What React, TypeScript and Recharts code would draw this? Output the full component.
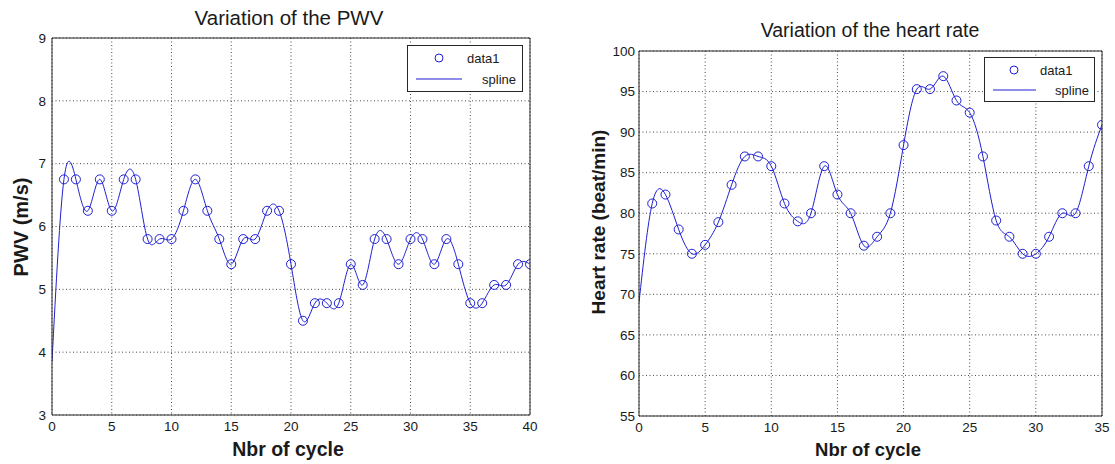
import React from 'react';
import { ComposedChart, Line, XAxis, YAxis, CartesianGrid, Legend } from 'recharts';

const BLUE = '#1f1fd2';
const FRAME = '#262626';
const GRID = '#4a4a4a';
const TEXT = '#1a1a1a';
const FONT = '"Liberation Sans", Arial, Helvetica, sans-serif';

// ---- Variation of the PWV ----
const pwvCycles = [1, 2, 3, 4, 5, 6, 7, 8, 9, 10, 11, 12, 13, 14, 15, 16, 17, 18, 19, 20, 21, 22, 23, 24, 25, 26, 27, 28, 29, 30, 31, 32, 33, 34, 35, 36, 37, 38, 39, 40];
const pwvValues = [
  6.75, 6.75, 6.25, 6.75, 6.25, 6.75, 6.75, 5.8, 5.8, 5.8,
  6.25, 6.75, 6.25, 5.8, 5.4, 5.8, 5.8, 6.25, 6.25, 5.4,
  4.5, 4.78, 4.78, 4.78, 5.4, 5.07, 5.8, 5.8, 5.4, 5.8,
  5.8, 5.4, 5.8, 5.4, 4.78, 4.78, 5.07, 5.07, 5.4, 5.4,
];
const pwvSplineStartCycle = 0;
const pwvSplineStartValue = 3.85;
const pwvXTicks = [0, 5, 10, 15, 20, 25, 30, 35, 40];
const pwvYTicks = [3, 4, 5, 6, 7, 8, 9];

// ---- Variation of the heart rate ----
const hrCycles = [1, 2, 3, 4, 5, 6, 7, 8, 9, 10, 11, 12, 13, 14, 15, 16, 17, 18, 19, 20, 21, 22, 23, 24, 25, 26, 27, 28, 29, 30, 31, 32, 33, 34, 35];
const hrValues = [
  81.2, 82.3, 78.0, 75.0, 76.1, 78.9, 83.5, 87.0, 87.0, 85.8,
  81.2, 79.0, 80.0, 85.8, 82.3, 80.0, 76.0, 77.1, 80.0, 88.4,
  95.3, 95.3, 96.9, 93.9, 92.4, 87.0, 79.1, 77.1, 75.0, 75.0,
  77.1, 80.0, 80.0, 85.8, 90.9,
];
const hrSplineStartCycle = 0;
const hrSplineStartValue = 69.0;
const hrXTicks = [0, 5, 10, 15, 20, 25, 30, 35];
const hrYTicks = [55, 60, 65, 70, 75, 80, 85, 90, 95, 100];

const legendLabels = ['data1', 'spline'];

type Pt = { x: number; y: number };

const toPoints = (cycles: number[], values: number[]): Pt[] =>
  cycles.map((c, i) => ({ x: c, y: values[i] }));

const pwvData1 = toPoints(pwvCycles, pwvValues);
const pwvSpline = [{ x: pwvSplineStartCycle, y: pwvSplineStartValue }, ...pwvData1];
const hrData1 = toPoints(hrCycles, hrValues);
const hrSpline = [{ x: hrSplineStartCycle, y: hrSplineStartValue }, ...hrData1];

type LegendGeom = {
  left: number; top: number; w: number; h: number;
  circleX: number; textX: number; lineX1: number; lineX2: number; splineRight: number;
  row1: number; row2: number;
};

function LegendBox({ g }: { g: LegendGeom }) {
  return (
    <svg width={g.w} height={g.h} style={{ display: 'block' }}>
      <rect x={0.5} y={0.5} width={g.w - 1} height={g.h - 1} fill="#fff" stroke={FRAME} strokeWidth={1} />
      <circle cx={g.circleX} cy={g.row1} r={4} fill="none" stroke={BLUE} strokeWidth={1} />
      <text x={g.textX} y={g.row1} dy="0.35em" fontSize={13} fontFamily={FONT} fill={TEXT}>{legendLabels[0]}</text>
      <line x1={g.lineX1} x2={g.lineX2} y1={g.row2} y2={g.row2} stroke={BLUE} strokeWidth={1} />
      <text x={g.splineRight} y={g.row2} dy="0.35em" textAnchor="end" fontSize={13} fontFamily={FONT} fill={TEXT}>{legendLabels[1]}</text>
    </svg>
  );
}

type PanelProps = {
  width: number; height: number;
  margin: { top: number; right: number; bottom: number; left: number };
  yAxisWidth: number; yTickGap: number;
  xDomain: [number, number]; yDomain: [number, number];
  xTicks: number[]; yTicks: number[];
  data1: Pt[]; spline: Pt[];
  legend: LegendGeom;
};

const tickStyle = { fill: TEXT, fontSize: 13.5, fontFamily: FONT };

function Panel(p: PanelProps) {
  return (
    <ComposedChart width={p.width} height={p.height} margin={p.margin}>
      <CartesianGrid stroke={GRID} strokeDasharray="1 2.5" strokeWidth={1} />
      <XAxis
        dataKey="x" type="number" domain={p.xDomain} ticks={p.xTicks} interval={0}
        allowDataOverflow height={30} tickLine={false} tickSize={6} tickMargin={0}
        axisLine={{ stroke: FRAME, strokeWidth: 1 }} tick={tickStyle}
      />
      <YAxis
        type="number" domain={p.yDomain} ticks={p.yTicks} interval={0}
        allowDataOverflow width={p.yAxisWidth} tickLine={false} tickSize={p.yTickGap} tickMargin={0}
        axisLine={{ stroke: FRAME, strokeWidth: 1 }} tick={tickStyle}
      />
      <XAxis
        xAxisId="topFrame" orientation="top" mirror type="number" domain={p.xDomain} ticks={p.xTicks}
        interval={0} height={1} tick={false} tickSize={5} axisLine={{ stroke: FRAME }} tickLine={{ stroke: FRAME }}
      />
      <XAxis
        xAxisId="bottomIn" orientation="bottom" mirror type="number" domain={p.xDomain} ticks={p.xTicks}
        interval={0} height={1} tick={false} tickSize={5} axisLine={false} tickLine={{ stroke: FRAME }}
      />
      <YAxis
        yAxisId="rightFrame" orientation="right" mirror type="number" domain={p.yDomain} ticks={p.yTicks}
        interval={0} width={1} tick={false} tickSize={5} axisLine={{ stroke: FRAME }} tickLine={{ stroke: FRAME }}
      />
      <YAxis
        yAxisId="leftIn" orientation="left" mirror type="number" domain={p.yDomain} ticks={p.yTicks}
        interval={0} width={1} tick={false} tickSize={5} axisLine={false} tickLine={{ stroke: FRAME }}
      />
      <Line
        name={legendLabels[1]} data={p.spline} dataKey="y" type="natural"
        stroke={BLUE} strokeWidth={1} dot={false} activeDot={false} isAnimationActive={false}
      />
      <Line
        name={legendLabels[0]} data={p.data1} dataKey="y" type="linear"
        stroke="none" strokeWidth={0}
        dot={{ r: 4.5, stroke: BLUE, strokeWidth: 1, fill: 'none' }}
        activeDot={false} isAnimationActive={false}
      />
      <Legend
        layout="vertical" align="center" verticalAlign="middle"
        width={p.legend.w} height={p.legend.h}
        wrapperStyle={{ left: p.legend.left, top: p.legend.top, width: p.legend.w, height: p.legend.h }}
        content={() => <LegendBox g={p.legend} />}
      />
    </ComposedChart>
  );
}

export default function App() {
  return (
    <div style={{ position: 'absolute', left: 0, top: 0, width: 1115, height: 464, background: '#fff', overflow: 'hidden' }}>
      <div style={{ position: 'absolute', left: 0, top: 0 }}>
        <Panel
          width={560} height={464}
          margin={{ top: 38, right: 30, bottom: 19, left: 0 }}
          yAxisWidth={52} yTickGap={6}
          xDomain={[0, 40]} yDomain={[3, 9]}
          xTicks={pwvXTicks} yTicks={pwvYTicks}
          data1={pwvData1} spline={pwvSpline}
          legend={{ left: 407, top: 45, w: 116, h: 47, circleX: 32, textX: 60, lineX1: 9, lineX2: 55, splineRight: 109, row1: 13, row2: 34 }}
        />
      </div>
      <div style={{ position: 'absolute', left: 560, top: 0 }}>
        <Panel
          width={555} height={464}
          margin={{ top: 51, right: 13, bottom: 18, left: 29 }}
          yAxisWidth={50} yTickGap={4}
          xDomain={[0, 35]} yDomain={[55, 100]}
          xTicks={hrXTicks} yTicks={hrYTicks}
          data1={hrData1} spline={hrSpline}
          legend={{ left: 424, top: 57, w: 111, h: 45, circleX: 30, textX: 56, lineX1: 9, lineX2: 52, splineRight: 105, row1: 13, row2: 33 }}
        />
      </div>
      <svg width={1115} height={464} style={{ position: 'absolute', left: 0, top: 0, pointerEvents: 'none' }}>
        <text x={289} y={25} textAnchor="middle" fontSize={20.5} fontFamily={FONT} fill={TEXT}>Variation of the PWV</text>
        <text x={870} y={37} textAnchor="middle" fontSize={19.5} fontFamily={FONT} fill={TEXT}>Variation of the heart rate</text>
        <text x={288} y={456} textAnchor="middle" fontSize={19.5} fontWeight="bold" fontFamily={FONT} fill={TEXT}>Nbr of cycle</text>
        <text x={868} y={456} textAnchor="middle" fontSize={18.5} fontWeight="bold" fontFamily={FONT} fill={TEXT}>Nbr of cycle</text>
        <text transform="translate(28,227) rotate(-90)" textAnchor="middle" fontSize={20} fontWeight="bold" fontFamily={FONT} fill={TEXT}>PWV (m/s)</text>
        <text transform="translate(605,222) rotate(-90)" textAnchor="middle" fontSize={19} fontWeight="bold" fontFamily={FONT} fill={TEXT}>Heart rate (beat/min)</text>
      </svg>
    </div>
  );
}
